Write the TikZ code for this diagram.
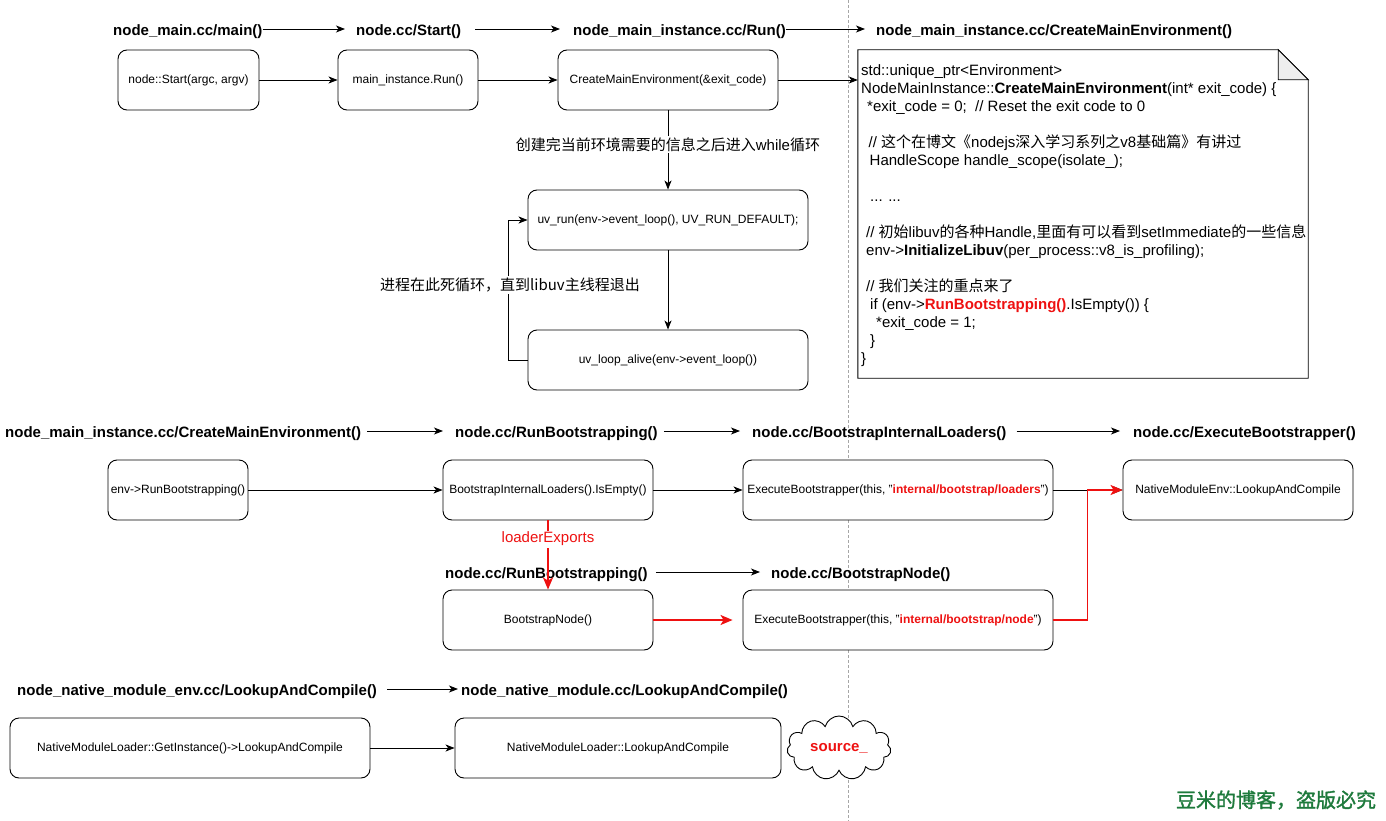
\documentclass[tikz,border=0pt]{standalone}
\usepackage{fontspec}
\setmainfont{Liberation Sans}
\newfontfamily\cjk{Noto Sans CJK SC}
\newfontfamily\cjkw[FakeBold=1.5]{Noto Sans CJK SC}
\usetikzlibrary{arrows.meta,shapes.symbols}
\definecolor{hl}{HTML}{EE1111}
\definecolor{wm}{HTML}{1E7A3C}
\definecolor{foldgrey}{HTML}{EEEEEE}
\begin{document}
\begin{tikzpicture}[x=1pt,y=-1pt,
  hdr/.style={font=\fontsize{15}{18}\selectfont\bfseries, inner sep=0pt, anchor=west, text height=16pt, text depth=3.2pt},
  box/.style={draw, rounded corners=9pt, line width=0.9pt, fill=white, minimum height=60pt, font=\fontsize{12}{14}\selectfont, inner sep=2pt},
  arr/.style={line width=0.9pt, -{Stealth[length=9pt,width=7pt,inset=2.5pt]}},
  redarr/.style={draw=hl, line width=1.8pt, -{Stealth[length=12pt,width=10pt,inset=3pt]}},
  lbl/.style={font=\fontsize{15}{18}\selectfont, fill=white, inner sep=1.5pt},
  dashline/.style={draw=black!35, line width=0.6pt, dash pattern=on 3pt off 2pt},
]
\fill[white] (0,0) rectangle (1386,821);
\useasboundingbox (0,0) rectangle (1386,821);

% separator
\draw[dashline] (848,0) -- (848,821);

% ---------- row 1 ----------
\node[hdr] (h11) at (113,29) {node\_main.cc/main()};
\node[hdr] (h12) at (356,29) {node.cc/Start()};
\node[hdr] (h13) at (573,29) {node\_main\_instance.cc/Run()};
\node[hdr] (h14) at (876,29) {node\_main\_instance.cc/CreateMainEnvironment()};
\draw[arr, shorten >=11pt] (h11.east) -- (h12.west);
\draw[arr, shorten <=14pt, shorten >=13pt] (h12.east) -- (h13.west);
\draw[arr, shorten >=11pt] (h13.east) -- (h14.west);

\node[box, minimum width=141pt] (b11) at (188.5,80) {node::Start(argc, argv)};
\node[box, minimum width=140pt] (b12) at (408,80) {main\_instance.Run()};
\node[box, minimum width=220pt] (b13) at (668,80) {CreateMainEnvironment(\&exit\_code)};
\node[box, minimum width=280pt] (b14) at (668,220) {uv\_run(env->event\_loop(), UV\_RUN\_DEFAULT);};
\node[box, minimum width=280pt] (b15) at (668,360) {uv\_loop\_alive(env->event\_loop())};

% note with folded corner
\node[minimum width=450pt, minimum height=328pt, inner sep=0pt] (note) at (1083,214) {};
\draw[line width=0.9pt, fill=white] (note.north west) -- ([xshift=-30pt]note.north east) -- ([yshift=-30pt]note.north east) -- (note.south east) -- (note.south west) -- cycle;
\draw[line width=0.9pt, fill=foldgrey] ([xshift=-30pt]note.north east) -- ([xshift=-30pt,yshift=-30pt]note.north east) -- ([yshift=-30pt]note.north east) -- cycle;
\node[anchor=north west, inner sep=0pt, align=left, font=\fontsize{15}{18}\selectfont] (code) at (861,63) {%
\rule{0pt}{12pt}std::unique\_ptr<Environment>\\
NodeMainInstance::\textbf{CreateMainEnvironment}(int* exit\_code) \{\\
\hspace*{6pt}*exit\_code = 0;\ \ // Reset the exit code to 0\\
\mbox{}\\
\hspace*{7.5pt}// {\cjk 这个在博文《}nodejs{\cjk 深入学习系列之}v8{\cjk 基础篇》有讲过}\\
\hspace*{8.5pt}HandleScope handle\_scope(isolate\_);\\
\mbox{}\\
\hspace*{9pt}... ...\\
\mbox{}\\
\hspace*{5pt}// {\cjk 初始}libuv{\cjk 的各种}Handle,{\cjk 里面有可以看到}setImmediate{\cjk 的一些信息}\\
\hspace*{5pt}env->\textbf{InitializeLibuv}(per\_process::v8\_is\_profiling);\\
\mbox{}\\
\hspace*{5pt}// {\cjk 我们关注的重点来了}\\
\hspace*{9pt}if (env->\textcolor{hl}{\textbf{RunBootstrapping()}}.IsEmpty()) \{\\
\hspace*{15pt}*exit\_code = 1;\\
\hspace*{9pt}\}\\
\}};

\draw[arr] (b11) -- (b12);
\draw[arr] (b12) -- (b13);
\draw[arr] (b13.east) -- (b13.east -| note.west);
\draw[arr] (b13) -- node[lbl, pos=0.43] (lwhile) {{\cjk 创建完当前环境需要的信息之后进入}while{\cjk 循环}} (b14);
\draw[arr] (b14) -- (b15);
\draw[arr] (b15.west) -- ++(-19,0) |- (b14.west);
\node[lbl] (lloop) at (510,285) {\cjk 进程在此死循环，直到libuv主线程退出};

% ---------- row 2 ----------
\node[hdr] (h21) at (5,431) {node\_main\_instance.cc/CreateMainEnvironment()};
\node[hdr] (h22) at (455,431) {node.cc/RunBootstrapping()};
\node[hdr] (h23) at (752,431) {node.cc/BootstrapInternalLoaders()};
\node[hdr] (h24) at (1133,431) {node.cc/ExecuteBootstrapper()};
\draw[arr, shorten <=6pt, shorten >=12pt] (h21.east) -- (h22.west);
\draw[arr, shorten <=6pt, shorten >=12pt] (h22.east) -- (h23.west);
\draw[arr, shorten <=10pt, shorten >=13pt] (h23.east) -- (h24.west);

\node[box, minimum width=140pt] (b21) at (178,490) {env->RunBootstrapping()};
\node[box, minimum width=210pt] (b22) at (548,490) {BootstrapInternalLoaders().IsEmpty()};
\node[box, minimum width=310pt] (b23) at (898,490) {ExecuteBootstrapper(this, "\textcolor{hl}{\textbf{internal/bootstrap/loaders}}")};
\node[box, minimum width=230pt] (b24) at (1238,490) {NativeModuleEnv::LookupAndCompile};
\draw[arr] (b21) -- (b22);
\draw[arr] (b22) -- (b23);
\draw[arr] (b23) -- (b24);

% ---------- row 3 ----------
\node[hdr] (h31) at (445,572) {node.cc/RunBootstrapping()};
\node[hdr] (h32) at (771,572) {node.cc/BootstrapNode()};
\draw[arr, shorten <=8pt, shorten >=11pt] (h31.east) -- (h32.west);

\node[box, minimum width=210pt] (b31) at (548,620) {BootstrapNode()};
\node[box, minimum width=310pt] (b32) at (898,620) {ExecuteBootstrapper(this, "\textcolor{hl}{\textbf{internal/bootstrap/node}}")};
\draw[redarr] (b22.south) -- node[lbl, pos=0.27, text=hl] (lexp) {loaderExports} (b31.north);
\draw[redarr, shorten >=10pt] (b31) -- (b32);
\draw[redarr] (b32.east) -- ++(34,0) |- (b24.west);

% ---------- row 4 ----------
\node[hdr] (h41) at (17,689) {node\_native\_module\_env.cc/LookupAndCompile()};
\node[hdr] (h42) at (461,689) {node\_native\_module.cc/LookupAndCompile()};
\draw[arr, shorten <=10pt, shorten >=3pt] (h41.east) -- (h42.west);

\node[box, minimum width=360pt] (b41) at (190,748) {NativeModuleLoader::GetInstance()->LookupAndCompile};
\node[box, minimum width=326pt] (b42) at (618,748) {NativeModuleLoader::LookupAndCompile};
\draw[arr] (b41) -- (b42);

\node[cloud, cloud puffs=11, aspect=1.7, draw, line width=0.9pt, fill=white, minimum width=104pt, minimum height=64pt, inner sep=0pt, text=hl, font=\fontsize{15}{18}\selectfont\bfseries] (src) at (839,748) {source\_};

% watermark
\node[text=wm, font=\fontsize{20}{24}\selectfont\cjkw, inner sep=0pt] (wmark) at (1276,800) {豆米的博客，盗版必究};
\end{tikzpicture}
\end{document}
